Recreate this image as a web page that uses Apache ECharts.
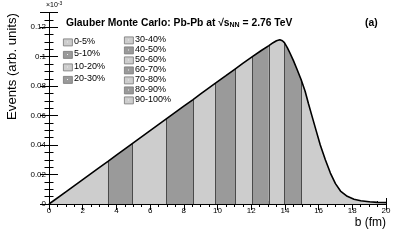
<!DOCTYPE html>
<html><head><meta charset="utf-8">
<script src="https://cdn.jsdelivr.net/npm/echarts@6/dist/echarts.min.js"></script>
<style>html,body{margin:0;padding:0;background:#fff}#c{width:407px;height:243px}</style>
</head><body><div id="c"></div>
<script>
// ---- data ----
const bValues = [0, 1, 2, 3, 3.5, 4, 4.94, 6, 6.98, 8, 8.55, 9, 9.88, 10.5, 11.04, 11.5, 12.09, 12.6, 13.05, 13.3, 13.5, 13.7, 13.85, 13.97, 14.15, 14.3, 14.5, 14.7, 14.96, 15.2, 15.4, 15.6, 15.85, 16.1, 16.4, 16.7, 17.0, 17.3, 17.7, 18.1, 18.5, 19.0, 19.5, 20.0];
const events  = [0, 0.0083, 0.0166, 0.0249, 0.029, 0.0332, 0.041, 0.0498, 0.0579, 0.0664, 0.0709, 0.0747, 0.082, 0.0871, 0.0916, 0.0954, 0.1002, 0.1042, 0.1075, 0.1095, 0.1108, 0.1115, 0.1108, 0.1095, 0.106, 0.1025, 0.0975, 0.092, 0.0845, 0.0765, 0.068, 0.06, 0.05, 0.040, 0.030, 0.021, 0.0138, 0.0088, 0.0052, 0.0032, 0.0022, 0.0015, 0.0011, 0.0009];
const centralityEdges = [0, 3.5, 4.94, 6.98, 8.55, 9.88, 11.04, 12.09, 13.05, 13.97, 14.96, 20];
const centralityLabels = ['0-5%', '5-10%', '10-20%', '20-30%', '30-40%', '40-50%', '50-60%', '60-70%', '70-80%', '80-90%', '90-100%'];
const xTickStep = 2, xMinorStep = 0.5, xMax = 20;
const yTickStep = 0.02, yMinorStep = 0.005, yMax = 0.13;
const titleText = 'Glauber Monte Carlo: Pb-Pb at ';
const energyText = ' = 2.76 TeV';
const xTitle = 'b (fm)';
const yTitle = 'Events (arb. units)';

// ---- chart ----
const FONT = '"Liberation Sans", Arial, Helvetica, sans-serif';
const LIGHT = '#cdcdcd', DARK = '#9a9a9a';
const curve = bValues.map((b, i) => [b, events[i]]);
const valueAt = b => events[bValues.indexOf(b)];

const binSeries = centralityLabels.map((lab, i) => ({
  type: 'line', name: lab, xAxisIndex: 0, yAxisIndex: 0,
  data: curve.filter(p => p[0] >= centralityEdges[i] && p[0] <= centralityEdges[i + 1]),
  symbol: 'none', showSymbol: false, silent: true, animation: false, z: 2,
  lineStyle: { width: 0, opacity: 0 },
  areaStyle: { color: i % 2 ? DARK : LIGHT, opacity: 1 }
}));

const separatorSeries = {
  type: 'line', data: [], xAxisIndex: 0, yAxisIndex: 0, z: 3, silent: true, animation: false,
  markLine: {
    symbol: ['none', 'none'], silent: true, animation: false, label: { show: false },
    lineStyle: { color: '#4a4a4a', width: 1, type: 'solid' },
    emphasis: { disabled: true },
    data: centralityEdges.slice(1, -1).map(e => [{ coord: [e, 0] }, { coord: [e, valueAt(e)] }])
  }
};

const curveSeries = {
  type: 'line', data: curve, xAxisIndex: 0, yAxisIndex: 0, z: 5, silent: true, animation: false,
  symbol: 'none', showSymbol: false,
  lineStyle: { color: '#000', width: 1.6 }
};

function xAx(pos, step, tickLen, labels) {
  return {
    type: 'value', min: 0, max: xMax, interval: step, position: pos,
    axisLine: { show: true, lineStyle: { color: '#000', width: 1 } },
    axisTick: { show: true, inside: true, length: tickLen, lineStyle: { color: '#000', width: 1 } },
    axisLabel: { show: labels, fontFamily: FONT, fontSize: 8, color: '#000', margin: 3 },
    splitLine: { show: false }
  };
}
function yAx(pos, step, tickLen, labels) {
  return {
    type: 'value', min: 0, max: yMax, interval: step, position: pos,
    axisLine: { show: true, lineStyle: { color: '#000', width: 1 } },
    axisTick: { show: true, inside: true, length: tickLen, lineStyle: { color: '#000', width: 1 } },
    axisLabel: {
      show: labels, fontFamily: FONT, fontSize: 8, color: '#000', margin: 3,
      formatter: v => (Math.abs(v - yMax) < 1e-9) ? '' : (v === 0 ? '0' : String(+v.toFixed(3)))
    },
    splitLine: { show: false }
  };
}

const legendGraphics = [];
centralityLabels.forEach((lab, i) => {
  const col = i < 4 ? 0 : 1;
  const row = i < 4 ? i : i - 4;
  const bx = col === 0 ? 63 : 124;
  const cy = col === 0 ? 42 + row * 12.5 : 40 + row * 10;
  legendGraphics.push({
    type: 'rect', left: bx, top: cy - 3.5, z: 100,
    shape: { width: 9, height: 7 },
    style: { fill: i % 2 ? DARK : LIGHT, stroke: '#777', lineWidth: 0.8 }
  });
  legendGraphics.push({
    type: 'rect', left: bx + 4, top: cy - 0.5, z: 101,
    shape: { width: 1, height: 1 },
    style: { fill: '#eee' }
  });
  legendGraphics.push({
    type: 'text', left: bx + 11, top: cy - 5, z: 100,
    style: { text: lab, fontFamily: FONT, fontSize: 9, fill: '#000' }
  });
});

const option = {
  backgroundColor: '#fff',
  animation: false,
  grid: { left: 49, right: 21, top: 12.5, bottom: 39, containLabel: false },
  xAxis: [
    xAx('bottom', xTickStep, 6, true),
    xAx('bottom', xMinorStep, 3, false),
    xAx('top', xTickStep, 6, false),
    xAx('top', xMinorStep, 3, false)
  ],
  yAxis: [
    yAx('left', yTickStep, 9, true),
    yAx('left', yMinorStep, 4.5, false),
    yAx('right', yTickStep, 9, false),
    yAx('right', yMinorStep, 4.5, false)
  ],
  series: [...binSeries, separatorSeries, curveSeries],
  graphic: [
    ...legendGraphics,
    {
      type: 'text', left: 46, top: 1, z: 100,
      style: {
        text: '{a|×10}{s|-3}',
        rich: { a: { fontFamily: FONT, fontSize: 7, fill: '#000' }, s: { fontFamily: FONT, fontSize: 5, fill: '#000', padding: [0, 0, 4, 0] } }
      }
    },
    {
      type: 'text', left: 66, top: 18, z: 100,
      style: {
        text: '{b|' + titleText + '√s}{sub|NN}{b|' + energyText + '}',
        rich: {
          b: { fontFamily: FONT, fontSize: 10.3, fontWeight: 'bold', fill: '#000' },
          sub: { fontFamily: FONT, fontSize: 7, fontWeight: 'bold', fill: '#000', padding: [5, 0, 0, 0] }
        }
      }
    },
    {
      type: 'text', left: 365, top: 18, z: 100,
      style: { text: '(a)', fontFamily: FONT, fontSize: 10.3, fontWeight: 'bold', fill: '#000' }
    },
    {
      type: 'text', x: 12, y: 13, rotation: Math.PI / 2, z: 100,
      style: { text: yTitle, fontFamily: FONT, fontSize: 13.2, fill: '#000', align: 'right', verticalAlign: 'middle' }
    },
    {
      type: 'text', x: 386, y: 223, z: 100,
      style: { text: xTitle, fontFamily: FONT, fontSize: 12, fill: '#000', align: 'right', verticalAlign: 'middle' }
    }
  ]
};

const chart = echarts.init(document.getElementById('c'), null, { renderer: 'canvas' });
chart.setOption(option);
</script>
</body></html>
